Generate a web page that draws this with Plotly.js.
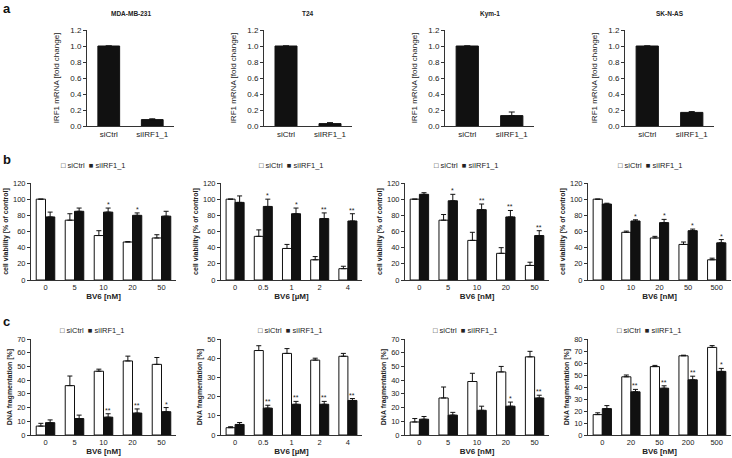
<!DOCTYPE html>
<html>
<head>
<meta charset="utf-8">
<script src="https://cdn.plot.ly/plotly-3.0.1.min.js"></script>
<style>html,body{margin:0;padding:0;background:#fff;}#chart{width:732px;height:458px;}</style>
</head>
<body>
<div id="chart"></div>
<script>
// ---------- DATA ----------
// Row a: IRF1 mRNA fold change
const aCellLines = ['MDA-MB-231', 'T24', 'Kym-1', 'SK-N-AS'];
const aCats = ['siCtrl', 'siIRF1_1'];
const aTicks = [0, 0.2, 0.4, 0.6, 0.8, 1.0, 1.2];
const aMDA = [1.0, 0.08];   const aMDAErr = [0, 0.01];
const aT24 = [1.0, 0.03];   const aT24Err = [0, 0.012];
const aKym = [1.0, 0.13];   const aKymErr = [0, 0.045];
const aSKN = [1.0, 0.17];   const aSKNErr = [0, 0.01];

// Row b: cell viability [% of control]
const bTicks = [0, 20, 40, 60, 80, 100, 120];
const b1Doses = ['0', '5', '10', '20', '50'];
const b1Ctrl = [100, 74, 55, 47, 52];   const b1CtrlErr = [0, 8, 6, 0.5, 4];
const b1IRF  = [78, 85, 84, 80, 79];    const b1IRFErr  = [6, 4, 5, 3, 6];
const b1Sig  = ['', '', '*', '*', ''];

const b2Doses = ['0', '0.5', '1', '2', '4'];
const b2Ctrl = [100, 54, 39, 25, 14];   const b2CtrlErr = [0, 8, 5, 4, 3];
const b2IRF  = [96, 91, 82, 76, 73];    const b2IRFErr  = [8, 9, 7, 7, 9];
const b2Sig  = ['', '*', '*', '**', '**'];

const b3Doses = ['0', '5', '10', '20', '50'];
const b3Ctrl = [100, 74, 49, 33, 18];   const b3CtrlErr = [0, 7, 10, 7, 4];
const b3IRF  = [106, 98, 87, 78, 55];   const b3IRFErr  = [2, 8, 7, 8, 6];
const b3Sig  = ['', '*', '**', '**', '**'];

const b4Doses = ['0', '10', '20', '50', '500'];
const b4Ctrl = [100, 59, 52, 44, 25];   const b4CtrlErr = [0, 1.5, 2, 3, 2];
const b4IRF  = [94, 73, 71, 61, 46];    const b4IRFErr  = [1, 1.5, 4, 2, 4];
const b4Sig  = ['', '*', '*', '*', '*'];

// Row c: DNA fragmentation [%]
const c1Ticks = [0, 10, 20, 30, 40, 50, 60, 70];
const c1Doses = ['0', '5', '10', '20', '50'];
const c1Ctrl = [6.5, 36, 46.5, 54, 51.5]; const c1CtrlErr = [2, 7, 1.5, 3.5, 5];
const c1IRF  = [9, 12, 13, 16, 17];       const c1IRFErr  = [2, 2.5, 2.5, 3, 3];
const c1Sig  = ['', '', '**', '**', '*'];

const c2Ticks = [0, 10, 20, 30, 40, 50];
const c2Doses = ['0', '0.5', '1', '2', '4'];
const c2Ctrl = [3.8, 44, 42.5, 39, 41];   const c2CtrlErr = [0.5, 2.5, 2.5, 1, 1.5];
const c2IRF  = [5.5, 14, 16, 16, 18];     const c2IRFErr  = [1, 1.5, 1.5, 1.5, 1];
const c2Sig  = ['', '**', '**', '**', '**'];

const c3Ticks = [0, 10, 20, 30, 40, 50, 60, 70];
const c3Doses = ['0', '5', '10', '20', '50'];
const c3Ctrl = [9.5, 27, 39, 46, 57];     const c3CtrlErr = [2.5, 8, 6, 4, 4];
const c3IRF  = [11.5, 14.5, 18, 21, 27];  const c3IRFErr  = [2, 2, 3, 3, 2];
const c3Sig  = ['', '', '', '*', '**'];

const c4Ticks = [0, 10, 20, 30, 40, 50, 60, 70, 80];
const c4Doses = ['0', '20', '50', '200', '500'];
const c4Ctrl = [17, 48.5, 57, 66, 73];    const c4CtrlErr = [1.5, 1.5, 1, 0.5, 1.5];
const c4IRF  = [22, 36, 39, 46, 53];      const c4IRFErr  = [2.5, 2, 2, 3, 2.5];
const c4Sig  = ['', '**', '**', '**', '*'];

const seriesNames = ['siCtrl', 'siIRF1_1'];
const legendText = '\u25A1 siCtrl  \u25A0 siIRF1_1';

// ---------- LAYOUT SPECS ----------
const W = 732, H = 458;
const FONT = 'Liberation Sans, Arial, sans-serif';
const TXT = '#222';
const LINE = '#333';
const BLACK = '#111';
const BW = 0.32;

const px = p => p / W;
const py = p => 1 - p / H;

const aPanels = [
  {title: aCellLines[0], y: aMDA, e: aMDAErr, x0: 87, x1: 174},
  {title: aCellLines[1], y: aT24, e: aT24Err, x0: 264, x1: 352},
  {title: aCellLines[2], y: aKym, e: aKymErr, x0: 445, x1: 534},
  {title: aCellLines[3], y: aSKN, e: aSKNErr, x0: 625, x1: 714}
];
const colX = [[31, 176], [221, 362], [405, 549], [588, 731]];
const legXb = [93, 291, 466, 650];
const bPanels = [
  {labels: b1Doses, c: b1Ctrl, ce: b1CtrlErr, s: b1IRF, se: b1IRFErr, sig: b1Sig, ticks: bTicks, unit: 'nM'},
  {labels: b2Doses, c: b2Ctrl, ce: b2CtrlErr, s: b2IRF, se: b2IRFErr, sig: b2Sig, ticks: bTicks, unit: '\u00B5M'},
  {labels: b3Doses, c: b3Ctrl, ce: b3CtrlErr, s: b3IRF, se: b3IRFErr, sig: b3Sig, ticks: bTicks, unit: 'nM'},
  {labels: b4Doses, c: b4Ctrl, ce: b4CtrlErr, s: b4IRF, se: b4IRFErr, sig: b4Sig, ticks: bTicks, unit: 'nM'}
];
const cPanels = [
  {labels: c1Doses, c: c1Ctrl, ce: c1CtrlErr, s: c1IRF, se: c1IRFErr, sig: c1Sig, ticks: c1Ticks, unit: 'nM'},
  {labels: c2Doses, c: c2Ctrl, ce: c2CtrlErr, s: c2IRF, se: c2IRFErr, sig: c2Sig, ticks: c2Ticks, unit: '\u00B5M'},
  {labels: c3Doses, c: c3Ctrl, ce: c3CtrlErr, s: c3IRF, se: c3IRFErr, sig: c3Sig, ticks: c3Ticks, unit: 'nM'},
  {labels: c4Doses, c: c4Ctrl, ce: c4CtrlErr, s: c4IRF, se: c4IRFErr, sig: c4Sig, ticks: c4Ticks, unit: 'nM'}
];

const traces = [];
const layout = {
  width: W, height: H,
  margin: {l: 0, r: 0, t: 0, b: 0},
  paper_bgcolor: '#fff', plot_bgcolor: '#fff',
  barmode: 'overlay',
  showlegend: false,
  font: {family: FONT, color: TXT, size: 8},
  annotations: []
};

function axisPair(n, x0, x1, top, bot, tickLabels, yticks, ytitle, xtitle, tickSize, yTickFmt, yStandoff) {
  const xs = tickLabels.map((_, i) => i);
  layout['xaxis' + n] = {
    domain: [px(x0), px(x1)], anchor: 'y' + n,
    range: [-0.5, tickLabels.length - 0.5],
    tickmode: 'array', tickvals: xs, ticktext: tickLabels,
    showline: true, linecolor: LINE, linewidth: 1,
    ticks: '', showgrid: false, zeroline: false, automargin: false, fixedrange: true,
    tickfont: {size: tickSize, color: TXT, family: FONT},
    title: xtitle ? {text: xtitle, font: {size: 8, color: TXT, family: FONT}, standoff: 2} : {text: ''}
  };
  layout['yaxis' + n] = {
    domain: [py(bot), py(top)], anchor: 'x' + n,
    range: [0, yticks[yticks.length - 1]],
    tickmode: 'array', tickvals: yticks,
    ticktext: yticks.map(v => yTickFmt(v)),
    showline: true, linecolor: LINE, linewidth: 1,
    ticks: 'outside', ticklen: 3, tickcolor: LINE, tickwidth: 1,
    showgrid: false, zeroline: false, automargin: false, fixedrange: true,
    tickfont: {size: tickSize, color: TXT, family: FONT},
    title: {text: ytitle, font: {size: ytitle.indexOf('<b>') === 0 ? 7 : 8, color: TXT, family: FONT}, standoff: yStandoff}
  };
}

// Row a
aPanels.forEach((p, k) => {
  const n = k + 1;
  traces.push({
    type: 'bar', x: aCats.map((_, i) => i), y: p.y, width: 0.5,
    xaxis: 'x' + n, yaxis: 'y' + n,
    marker: {color: BLACK, line: {color: BLACK, width: 1}},
    error_y: {type: 'data', symmetric: false, array: p.e, arrayminus: p.e.map(() => 0),
              color: BLACK, thickness: 1, width: 3},
    hoverinfo: 'none'
  });
  axisPair(n, p.x0, p.x1, 30, 126, aCats, aTicks, 'IRF1 mRNA [fold change]', '', 8, v => v.toFixed(1), 9);
  layout.annotations.push({
    xref: 'paper', yref: 'paper', x: px((p.x0 + p.x1) / 2), y: py(14),
    text: '<b>' + p.title + '</b>', showarrow: false, font: {size: 6.5, color: TXT, family: FONT},
    xanchor: 'center', yanchor: 'middle'
  });
});

function groupedPanel(p, n, cx, top, bot, ytitle, legX, legY) {
  const xs = p.labels.map((_, i) => i);
  traces.push({
    type: 'bar', name: seriesNames[0], x: xs, y: p.c, offset: -BW, width: BW,
    xaxis: 'x' + n, yaxis: 'y' + n,
    marker: {color: '#fff', line: {color: BLACK, width: 1}},
    error_y: {type: 'data', symmetric: false, array: p.ce, arrayminus: p.ce.map(() => 0),
              color: BLACK, thickness: 1, width: 2.5},
    hoverinfo: 'none'
  });
  traces.push({
    type: 'bar', name: seriesNames[1], x: xs, y: p.s, offset: 0, width: BW,
    xaxis: 'x' + n, yaxis: 'y' + n,
    marker: {color: BLACK, line: {color: BLACK, width: 1}},
    error_y: {type: 'data', symmetric: false, array: p.se, arrayminus: p.se.map(() => 0),
              color: BLACK, thickness: 1, width: 2.5},
    hoverinfo: 'none'
  });
  axisPair(n, cx[0], cx[1], top, bot, p.labels, p.ticks, '<b>' + ytitle + '</b>',
           '<b>BV6 [' + p.unit + ']</b>', 7.5, v => String(v), 3);
  p.sig.forEach((s, i) => {
    if (!s) return;
    layout.annotations.push({
      xref: 'x' + n, yref: 'y' + n, x: i + BW / 2, y: p.s[i] + p.se[i],
      text: s, showarrow: false, font: {size: 7, color: TXT, family: FONT},
      xanchor: 'center', yanchor: 'bottom', yshift: -2
    });
  });
  layout.annotations.push({
    xref: 'paper', yref: 'paper', x: px(legX), y: py(legY),
    text: legendText, showarrow: false, font: {size: 7.5, color: TXT, family: FONT},
    xanchor: 'center', yanchor: 'middle'
  });
}

bPanels.forEach((p, k) => groupedPanel(p, 5 + k, colX[k], 183, 280, 'cell viability [% of control]', legXb[k], 165));
cPanels.forEach((p, k) => groupedPanel(p, 9 + k, colX[k], 339, 435, 'DNA fragmentation [%]', legXb[k] - 1, 330));

// Panel letters
[['a', 8], ['b', 160], ['c', 321]].forEach(([t, y]) => {
  layout.annotations.push({
    xref: 'paper', yref: 'paper', x: px(1), y: py(y), text: '<b>' + t + '</b>',
    showarrow: false, font: {size: 13, color: '#111', family: FONT}, xanchor: 'left', yanchor: 'middle'
  });
});

Plotly.newPlot('chart', traces, layout, {staticPlot: true, displayModeBar: false});
</script>
</body>
</html>
